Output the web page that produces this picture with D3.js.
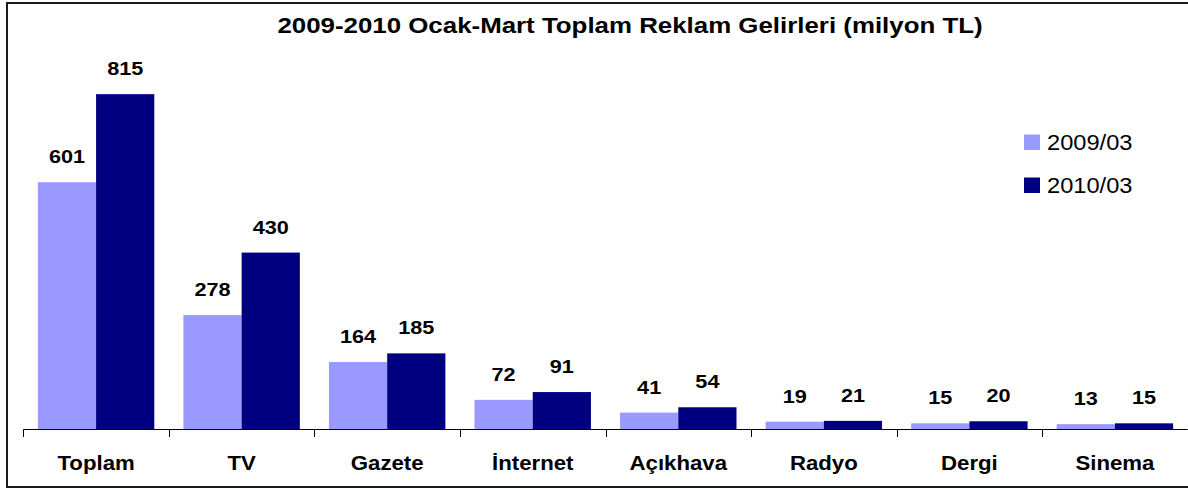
<!DOCTYPE html>
<html>
<head>
<meta charset="UTF-8">
<script src="https://d3js.org/d3.v7.min.js"></script>
<style>
  html, body { margin: 0; padding: 0; background: #fff; }
  svg text { font-family: "Liberation Sans", Arial, sans-serif; fill: #000; }
</style>
</head>
<body>
<svg id="chart" width="1188" height="488"></svg>
<script>
// DATA
var categories = ["Toplam", "TV", "Gazete", "İnternet", "Açıkhava", "Radyo", "Dergi", "Sinema"];
var seriesNames = ["2009/03", "2010/03"];
var values2009 = [601, 278, 164, 72, 41, 19, 15, 13];
var values2010 = [815, 430, 185, 91, 54, 21, 20, 15];
var colors = ["#9999FF", "#000080"];

var svg = d3.select("#chart");
var stretch = 1.14; // text in the picture is stretched sideways

// outer frame
svg.append("rect")
  .attr("x", 7).attr("y", 3)
  .attr("width", 1195).attr("height", 484)
  .attr("fill", "none")
  .attr("stroke", "#1a1a1a")
  .attr("stroke-width", 2);

// title
svg.append("text")
  .attr("transform", "translate(630,32.5) scale(1.15,1)")
  .attr("text-anchor", "middle")
  .style("font-size", "22.5px")
  .style("font-weight", "bold")
  .text("2009-2010 Ocak-Mart Toplam Reklam Gelirleri (milyon TL)");

// SCALES
var x = d3.scaleBand().domain(categories).range([23.3, 1187.7]).padding(0);
var inner = x.bandwidth() / 2.5; // bar width, 50% gap
var y = d3.scaleLinear().domain([0, 900]).range([429.5, 59.2]);

var rows = categories.map(function (c, i) {
  return { cat: c, vals: [values2009[i], values2010[i]] };
});

var g = svg.append("g");

rows.forEach(function (r) {
  var x0 = x(r.cat) + x.bandwidth() / 2 - inner;
  r.vals.forEach(function (v, s) {
    var bx = x0 + s * inner;
    g.append("rect")
      .attr("x", bx)
      .attr("y", y(v))
      .attr("width", inner)
      .attr("height", y(0) - y(v))
      .attr("fill", colors[s]);
    g.append("text")
      .attr("transform", "translate(" + (bx + inner / 2) + "," + (y(v) - 19) + ") scale(" + stretch + ",1)")
      .attr("text-anchor", "middle")
      .style("font-size", "19px")
      .style("font-weight", "bold")
      .text(v);
  });
});

// x axis
var axis = svg.append("g");
axis.append("line")
  .attr("x1", x.range()[0]).attr("x2", x.range()[1])
  .attr("y1", 429.5).attr("y2", 429.5)
  .attr("stroke", "#000").attr("stroke-width", 1);
var bounds = categories.map(function (c) { return x(c); }).concat([x.range()[1]]);
axis.selectAll(".tick")
  .data(bounds)
  .enter().append("line")
  .attr("x1", function (d) { return Math.round(d) + 0.5; })
  .attr("x2", function (d) { return Math.round(d) + 0.5; })
  .attr("y1", 429.5).attr("y2", 437)
  .attr("stroke", "#000");
axis.selectAll(".cat")
  .data(categories)
  .enter().append("text")
  .attr("transform", function (d) {
    return "translate(" + (x(d) + x.bandwidth() / 2) + ",470) scale(" + stretch + ",1)";
  })
  .attr("text-anchor", "middle")
  .style("font-size", "19.5px")
  .style("font-weight", "bold")
  .text(function (d) { return d; });

// legend
var legend = svg.append("g");
seriesNames.forEach(function (name, i) {
  var ly = 150 + i * 43;
  legend.append("rect")
    .attr("x", 1024).attr("y", ly - 15.5)
    .attr("width", 16).attr("height", 15.5)
    .attr("fill", colors[i]);
  legend.append("text")
    .attr("transform", "translate(1047," + ly + ") scale(1.1,1)")
    .style("font-size", "21.5px")
    .text(name);
});
</script>
</body>
</html>
